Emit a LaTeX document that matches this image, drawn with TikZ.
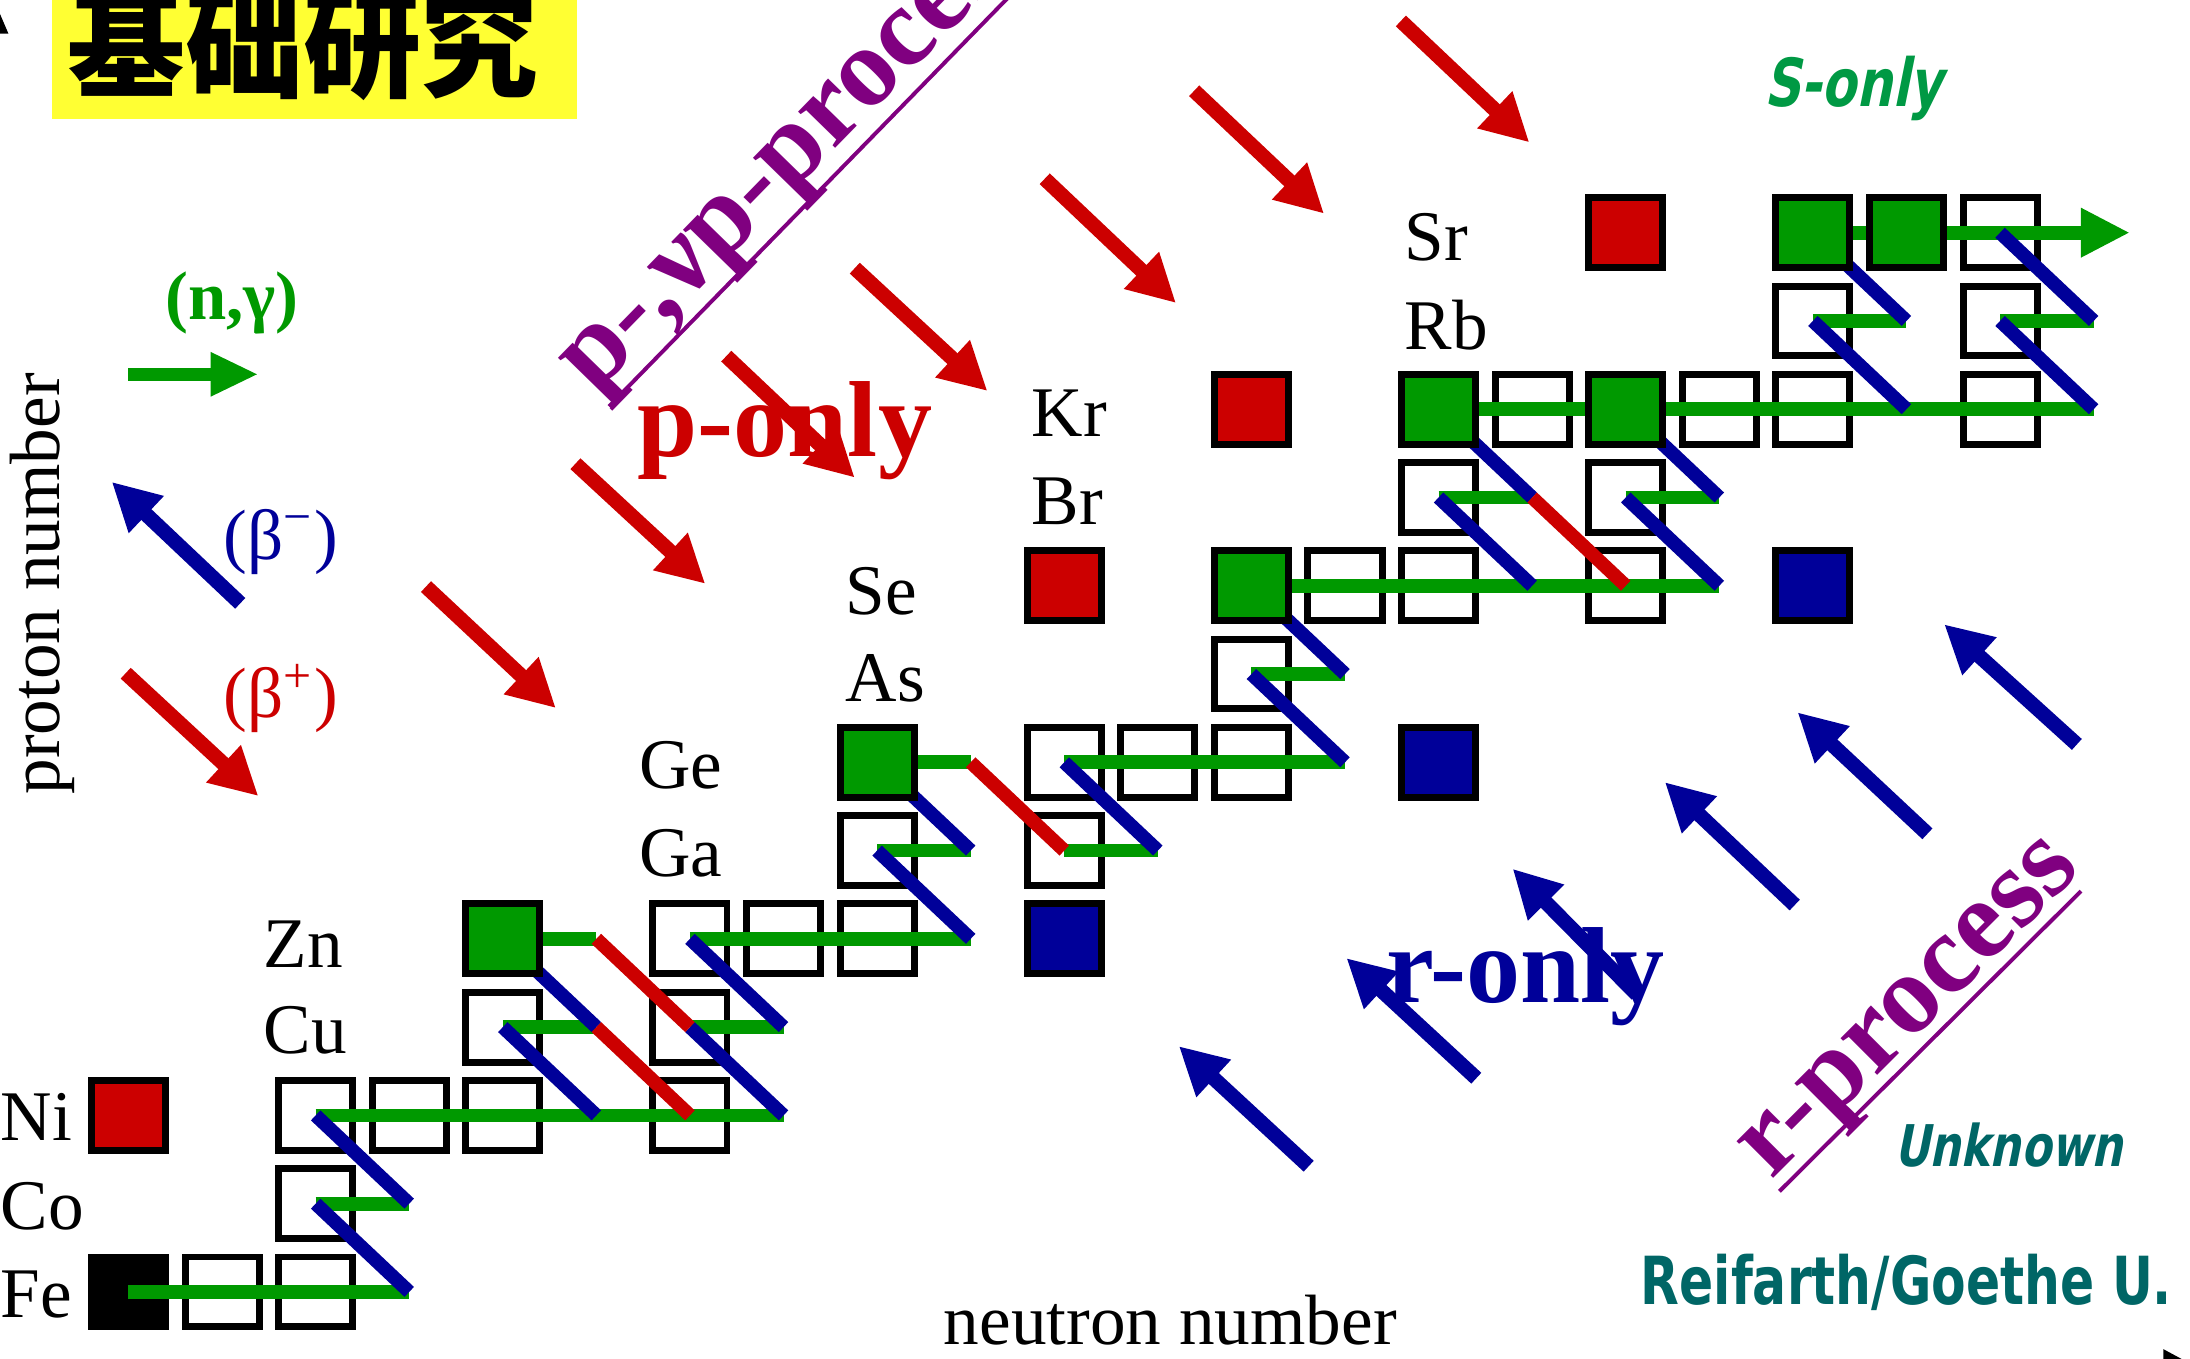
\documentclass[tikz,border=0pt]{standalone}
\usepackage{fontspec}
\setmainfont{Liberation Serif}
\newfontfamily\cjkfont{Noto Sans CJK SC}
\newfontfamily\comicfont[FakeStretch=0.76]{DejaVu Sans}
\newfontfamily\comicslant[FakeStretch=0.76,FakeSlant=0.2]{DejaVu Sans}
\usetikzlibrary{arrows.meta}
\definecolor{cred}{RGB}{204,0,0}
\definecolor{cblue}{RGB}{0,0,153}
\definecolor{cgreen}{RGB}{0,153,0}
\definecolor{cpurple}{RGB}{128,0,128}
\definecolor{cteal}{RGB}{0,102,102}
\definecolor{csgreen}{RGB}{0,153,68}
\definecolor{cyellow}{RGB}{255,255,51}
\begin{document}
\begin{tikzpicture}[x=0.01cm,y=-0.01cm,
  cellbox/.style={draw=black,line width=1.42pt,minimum width=0.53cm,minimum height=0.50cm,inner sep=0pt,outer sep=0pt},
  openbox/.style={cellbox},
  blackbox/.style={cellbox,fill=black},
  greenbox/.style={cellbox,fill=cgreen},
  redbox/.style={cellbox,fill=cred},
  bluebox/.style={cellbox,fill=cblue},
  ngline/.style={cgreen,line width=2.8pt},
  bmline/.style={cblue,line width=2.8pt},
  bpline/.style={cred,line width=2.8pt},
  bigarrow/.style={line width=3pt,-{Triangle[length=9.7pt,width=9.7pt]}},
  elem/.style={anchor=west,inner sep=0pt,font=\fontsize{14.5}{16}\selectfont},
  bigbold/.style={inner sep=0pt,font=\bfseries\fontsize{22}{24}\selectfont},
  procbold/.style={inner sep=0pt,anchor=base west,font=\bfseries\fontsize{23}{25}\selectfont,text=cpurple}
]
\useasboundingbox (0,0) rectangle (1568,973);
\clip (0,0) rectangle (1568,973);

% grid coordinates
\foreach \c in {0,...,22}{\foreach \r in {0,...,12}{
  \coordinate (p\c-\r) at ({92+67*\c},{925-63.2*\r});}}

% title
\fill[cyellow] (37,-5) rectangle (413,85);
\node[inner sep=0pt,font=\cjkfont\bfseries\fontsize{24}{24}\selectfont] (title) at (217,31) {基础研究};

% axis tips (cut off by the frame)
\fill[black] (-6,24) -- (0,10) -- (6,24) -- cycle;
\fill[black] (1549,966) -- (1562,973) -- (1549,980) -- cycle;

% open and black boxes
\foreach \c/\r in {1/0,2/0,2/1,2/2,3/2,4/2,6/2,4/3,6/3,6/4,7/4,8/4,8/5,10/5,10/6,11/6,12/6,12/7,13/8,14/8,16/8,14/9,16/9,15/10,17/10,18/10,20/10,18/11,20/11,20/12}
  \node[openbox] (b\c-\r) at (p\c-\r) {};
\node[blackbox] (b0-0) at (p0-0) {};

% (n,gamma) chains
\foreach \a/\b/\r in {0/3/0,2/3/1,2/7/2,4/5/3,6/7/3,4/5/4,6/9/4,8/9/5,10/11/5,8/9/6,10/13/6,12/13/7,12/17/8,14/15/9,16/17/9,14/21/10,18/19/11,20/21/11}
  \draw[ngline] (p\a-\r) -- (p\b-\r);
\coordinate (srend) at (1525,{925-63.2*12});
\draw[ngline,-{Triangle[length=10pt,width=9.4pt]}] (p18-12) -- (srend);

% beta- decays
\foreach \c/\r in {3/0,3/1,5/2,7/2,5/3,7/3,9/4,9/5,11/5,13/6,13/7,15/8,17/8,15/9,17/9,19/10,21/10,19/11,21/11}{
  \pgfmathtruncatemacro{\cc}{\c-1}\pgfmathtruncatemacro{\rr}{\r+1}
  \draw[bmline] (p\c-\r) -- (p\cc-\rr);}
% beta+ decays
\foreach \c/\r in {5/4,5/3,9/6,15/9}{
  \pgfmathtruncatemacro{\cc}{\c+1}\pgfmathtruncatemacro{\rr}{\r-1}
  \draw[bpline] (p\c-\r) -- (p\cc-\rr);}

% filled boxes
\foreach \c/\r in {4/4,8/6,12/8,14/10,16/10,18/12,19/12}
  \node[greenbox] (b\c-\r) at (p\c-\r) {};
\foreach \c/\r in {0/2,10/8,12/10,16/12}
  \node[redbox] (b\c-\r) at (p\c-\r) {};
\foreach \c/\r in {10/4,14/6,18/8}
  \node[bluebox] (b\c-\r) at (p\c-\r) {};

% element labels
\node[elem] (lFe) at (0,927) {Fe};
\node[elem] (lCo) at (0,864) {Co};
\node[elem] (lNi) at (0,800) {Ni};
\node[elem] (lCu) at (188,738) {Cu};
\node[elem] (lZn) at (188,676) {Zn};
\node[elem] (lGa) at (457,611) {Ga};
\node[elem] (lGe) at (457,548) {Ge};
\node[elem] (lAs) at (605,486) {As};
\node[elem] (lSe) at (605,423) {Se};
\node[elem] (lBr) at (738,359) {Br};
\node[elem] (lKr) at (738,296) {Kr};
\node[elem] (lRb) at (1005,233) {Rb};
\node[elem] (lSr) at (1005,170) {Sr};

% axis labels
\node[inner sep=0pt,rotate=90,font=\fontsize{14.5}{16}\selectfont] (ylab) at (30,418) {proton number};
\node[inner sep=0pt,font=\fontsize{14.5}{16}\selectfont] (xlab) at (838,945) {neutron number};

% legend
\node[inner sep=0pt,text=cgreen,font=\bfseries\fontsize{14}{16}\selectfont] (nglab) at (166,217) {(n,γ)};
\coordinate (ng1) at (92,268); \coordinate (ng2) at (185,268);
\draw[cgreen,line width=2.7pt,-{Triangle[length=9.7pt,width=8.3pt]}] (ng1) -- (ng2);
\node[inner sep=0pt,text=cblue,font=\fontsize{14.5}{16}\selectfont] (bmlab) at (201,388) {(β\textsuperscript{−})};
\node[inner sep=0pt,text=cred,font=\fontsize{14.5}{16}\selectfont] (bplab) at (201,500) {(β\textsuperscript{+})};
\coordinate (lbm1) at (172,432); \coordinate (lbm2) at (80,345);
\draw[bigarrow,cblue] (lbm1) -- (lbm2);
\coordinate (lbp1) at (90,482); \coordinate (lbp2) at (185,570);
\draw[bigarrow,cred] (lbp1) -- (lbp2);

% region labels
\node[bigbold,anchor=base,text=cred] (ponly) at (562,327) {p-only};
\node[bigbold,anchor=base,text=cblue] (ronly) at (1092,718) {r-only};
\node[procbold,rotate=45.7] (pproc) at (425,284) {p-,νp-process};
\coordinate (pu1) at (436,291); \coordinate (pu2) at (725,-5);
\draw[cpurple,line width=0.8pt] (pu1) -- (pu2);
\node[procbold,rotate=45] (rproc) at (1268,846) {r-process};
\coordinate (ru1) at (1274,853); \coordinate (ru2) at (1490,638);
\draw[cpurple,line width=0.8pt] (ru1) -- (ru2);
\node[inner sep=0pt,text=csgreen,font=\comicslant\bfseries\fontsize{13.5}{15}\selectfont] (sonly) at (1327,63) {S-only};
\node[inner sep=0pt,text=cteal,font=\comicslant\bfseries\fontsize{11.7}{14}\selectfont] (unknown) at (1438,820) {Unknown};
\node[inner sep=0pt,text=cteal,font=\comicfont\bfseries\fontsize{13.5}{15}\selectfont] (credit) at (1365,918) {Reifarth/Goethe U.};

% p-process arrows
\foreach \n/\xa/\ya/\xb/\yb in {1/305/420/398/507,2/412/332/505/418,3/520/255/612/342,4/612/192/707/280,5/748/128/842/217,6/855/65/948/153,7/1003/15/1095/102}{
  \coordinate (pa\n) at (\xa,\ya); \coordinate (pb\n) at (\xb,\yb);
  \draw[bigarrow,cred] (pa\n) -- (pb\n);}
% r-process arrows
\foreach \n/\xa/\ya/\xb/\yb in {1/937/835/844/749,2/1057/772/964/686,3/1172/712/1083/622,4/1285/648/1192/560,5/1380/597/1287/510,6/1487/533/1392/447}{
  \coordinate (ra\n) at (\xa,\ya); \coordinate (rb\n) at (\xb,\yb);
  \draw[bigarrow,cblue] (ra\n) -- (rb\n);}
\end{tikzpicture}
\end{document}
